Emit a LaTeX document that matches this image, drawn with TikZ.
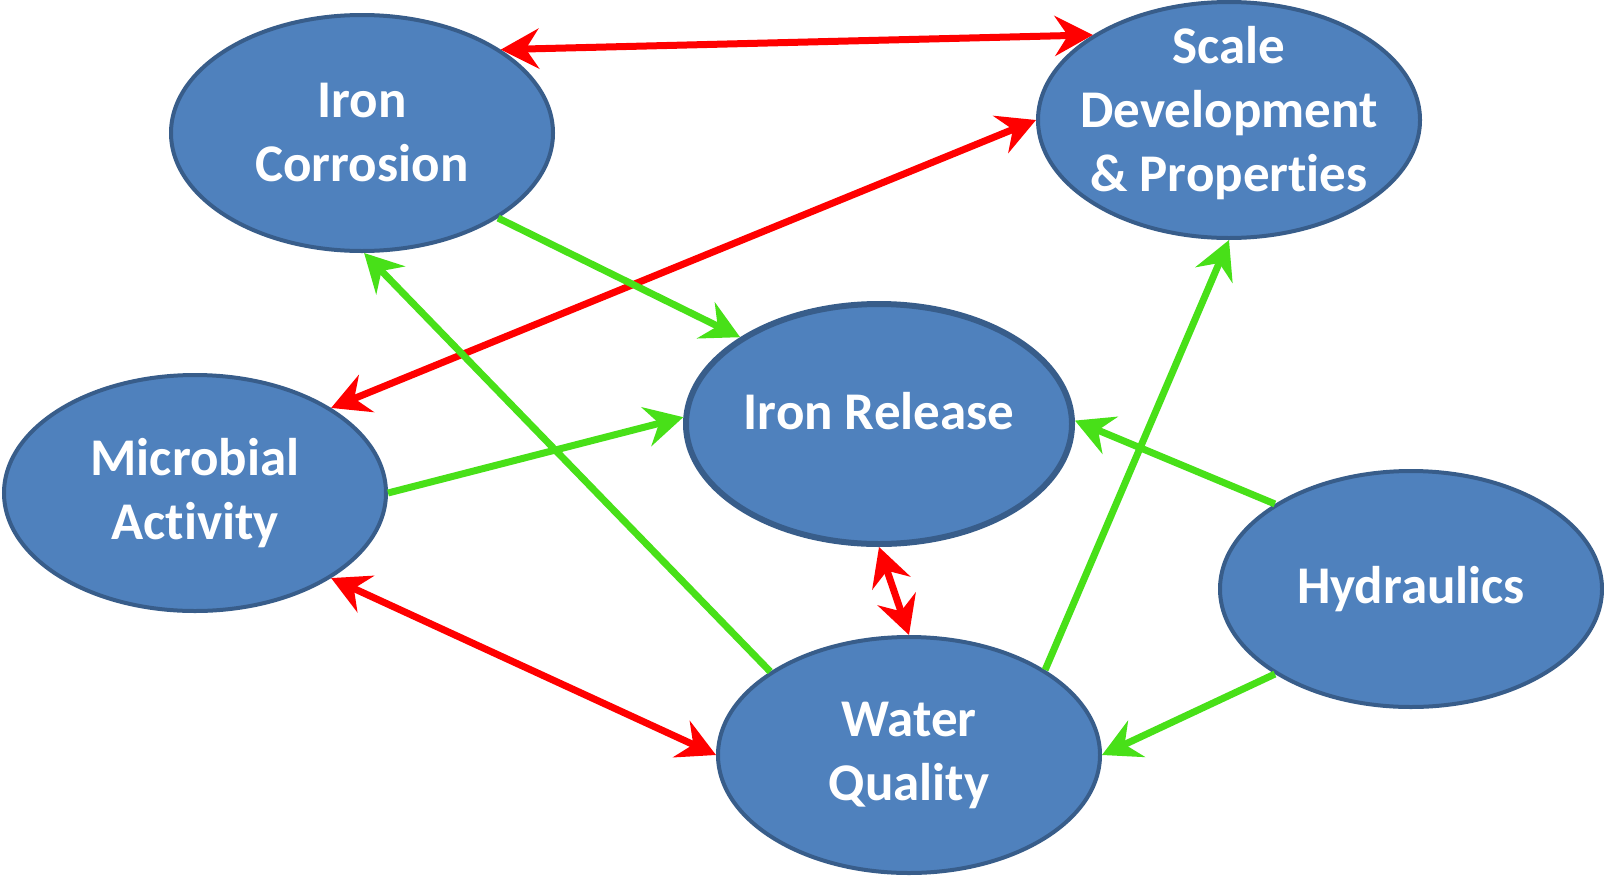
\documentclass[tikz,border=0pt]{standalone}
\usepackage{fontspec}
\setmainfont{Carlito}[Ligatures=NoCommon]
\usepackage{xcolor}
\usepackage{tikz}
\usetikzlibrary{arrows.meta, positioning, shapes.geometric}

\definecolor{blobfill}{RGB}{79,129,189}
\definecolor{blobline}{RGB}{56,93,138}
\definecolor{linkgreen}{RGB}{72,224,24}

\begin{document}
\begin{tikzpicture}[x=1pt, y=-1pt,
  blob/.style={ellipse, draw=blobline, line width=4pt, fill=blobfill,
    minimum width=382pt, minimum height=236pt, inner xsep=-20pt, inner ysep=-20pt,
    text=white, align=center, font=\fontsize{53}{64}\selectfont\bfseries},
  redlink/.style={draw=red, line width=7pt,
    {Stealth[length=38pt, width=40pt, inset=13pt]}-{Stealth[length=38pt, width=40pt, inset=13pt]}},
  greenlink/.style={draw=linkgreen, line width=7pt,
    -{Stealth[length=38pt, width=40pt, inset=13pt]}}]
  \useasboundingbox (0,0) rectangle (1604,876);

  \node[blob] (ic) at (362,133) {Iron\\Corrosion};
  \node[blob, text depth=23pt] (sc) at (1229,120) {Scale\\Development\\\& Properties};
  \node[blob, line width=6pt, minimum width=386pt, minimum height=240pt, text depth=26pt] (ir) at (879,424) {Iron Release};
  \node[blob] (ma) at (195,493) {Microbial\\Activity};
  \node[blob] (wq) at (909,755) {Water\\Quality};
  \node[blob] (hy) at (1411,589) {Hydraulics};

  % red two-way links
  \draw[redlink] (ic.31) -- (sc.148);
  \draw[redlink] (sc.180) -- (ma.32);
  \draw[redlink] (ma.-32) -- (wq.180);
  \draw[redlink] (ir.-90) -- (wq.90);

  % green one-way links
  \draw[greenlink] (ic.-32) -- (ir.148);
  \draw[greenlink] (wq.149) -- (ic.-89);
  \draw[greenlink] (ma.0) -- (ir.178);
  \draw[greenlink] (wq.32) -- (sc.-90);
  \draw[greenlink] (hy.148) -- (ir.1);
  \draw[greenlink] (hy.-148) -- (wq.0);
\end{tikzpicture}
\end{document}
